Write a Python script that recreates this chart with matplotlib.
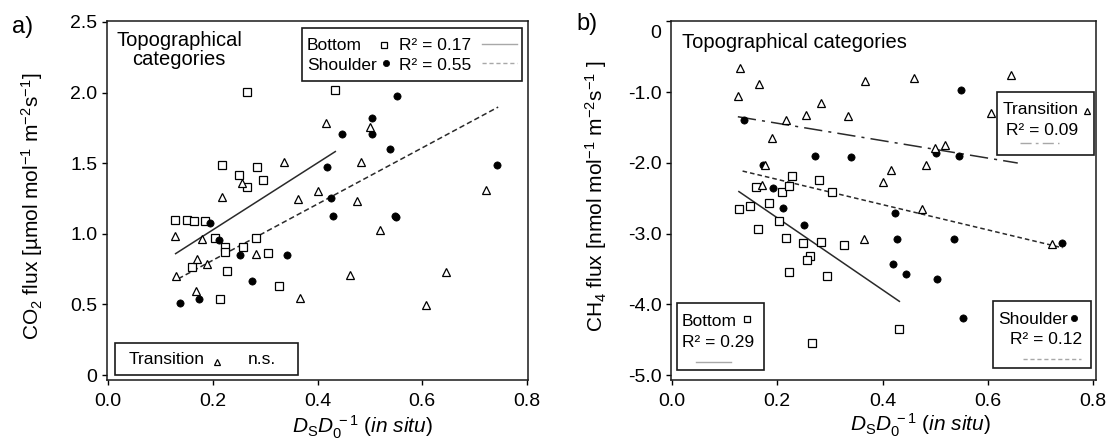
import numpy as np
import matplotlib
matplotlib.use("Agg")
import matplotlib.pyplot as plt
from matplotlib.patches import Rectangle
from matplotlib.lines import Line2D
import matplotlib.transforms as mtransforms

plt.rcParams['font.family'] = ['Liberation Sans', 'DejaVu Sans']
plt.rcParams['mathtext.fontset'] = 'custom'
plt.rcParams['mathtext.rm'] = 'Liberation Sans'
plt.rcParams['mathtext.it'] = 'Liberation Sans:italic'
plt.rcParams['mathtext.bf'] = 'Liberation Sans:bold'

# ---------------- data: panel a (CO2) ----------------
a_bottom_x = [0.266, 0.434, 0.218, 0.285, 0.250, 0.265, 0.296, 0.128, 0.150, 0.164, 0.186,
              0.205, 0.223, 0.224, 0.257, 0.282, 0.305, 0.161, 0.227, 0.327, 0.213]
a_bottom_y = [2.007, 2.016, 1.49, 1.47, 1.42, 1.33, 1.38, 1.096, 1.10, 1.09, 1.09,
              0.97, 0.91, 0.874, 0.91, 0.97, 0.867, 0.766, 0.734, 0.631, 0.537]
a_shoulder_x = [0.552, 0.505, 0.505, 0.446, 0.538, 0.419, 0.743, 0.425, 0.429, 0.548, 0.550,
                0.195, 0.212, 0.252, 0.342, 0.274, 0.138, 0.174]
a_shoulder_y = [1.979, 1.82, 1.71, 1.71, 1.60, 1.47, 1.49, 1.255, 1.126, 1.126, 1.12,
                1.08, 0.953, 0.85, 0.85, 0.664, 0.512, 0.537]
a_trans_x = [0.417, 0.501, 0.336, 0.484, 0.255, 0.218, 0.401, 0.363, 0.475, 0.722, 0.127,
             0.179, 0.520, 0.170, 0.189, 0.283, 0.129, 0.462, 0.646, 0.167, 0.366, 0.607]
a_trans_y = [1.787, 1.757, 1.507, 1.507, 1.357, 1.26, 1.30, 1.25, 1.236, 1.313, 0.986,
             0.963, 1.03, 0.825, 0.787, 0.857, 0.70, 0.708, 0.731, 0.593, 0.549, 0.495]
# regression fits (intercept, slope, x-range)
a_bottom_fit = (0.554, 2.37, 0.129, 0.434)
a_shoulder_fit = (0.415, 1.99, 0.134, 0.745)

# ---------------- data: panel b (CH4) ----------------
b_trans_x = [0.129, 0.125, 0.165, 0.366, 0.460, 0.644, 0.283, 0.254, 0.334, 0.217, 0.606,
             0.189, 0.500, 0.519, 0.177, 0.483, 0.417, 0.400, 0.171, 0.475, 0.364, 0.722]
b_trans_y = [-0.655, -1.057, -0.889, -0.847, -0.805, -0.763, -1.151, -1.324, -1.333, -1.399, -1.291,
             -1.642, -1.782, -1.75, -2.026, -2.03, -2.096, -2.264, -2.31, -2.648, -3.078, -3.149]
b_shoulder_x = [0.550, 0.136, 0.272, 0.340, 0.502, 0.545, 0.172, 0.192, 0.211, 0.250, 0.424,
                0.427, 0.536, 0.742, 0.419, 0.445, 0.504, 0.552]
b_shoulder_y = [-0.973, -1.394, -1.90, -1.923, -1.853, -1.904, -2.026, -2.349, -2.639, -2.873, -2.709,
                -3.074, -3.083, -3.13, -3.425, -3.574, -3.635, -4.196]
b_bottom_x = [0.160, 0.227, 0.280, 0.209, 0.222, 0.304, 0.127, 0.149, 0.185, 0.164, 0.204,
              0.216, 0.248, 0.283, 0.327, 0.263, 0.256, 0.223, 0.294, 0.432, 0.265]
b_bottom_y = [-2.339, -2.185, -2.236, -2.414, -2.33, -2.414, -2.648, -2.615, -2.564, -2.929, -2.821,
              -3.06, -3.139, -3.12, -3.167, -3.317, -3.373, -3.546, -3.602, -4.346, -4.547]
b_trans_fit = (-1.193, -1.231, 0.125, 0.657)
b_shoulder_fit = (-1.876, -1.785, 0.134, 0.742)
b_bottom_fit = (-1.759, -5.09, 0.127, 0.432)

a_xticks = [0.0, 0.2, 0.4, 0.6, 0.8]
a_xticklabels = ["0.0", "0.2", "0.4", "0.6", "0.8"]
a_yticks = [0.0, 0.5, 1.0, 1.5, 2.0, 2.5]
a_yticklabels = ["0", "0.5", "1.0", "1.5", "2.0", "2.5"]
b_yticks = [0.0, -1.0, -2.0, -3.0, -4.0, -5.0]
b_yticklabels = ["0", "-1.0", "-2.0", "-3.0", "-4.0", "-5.0"]

# ---------------- figure ----------------
W, H = 1107, 443
fig = plt.figure(figsize=(W / 100, H / 100), dpi=100)


def fx(px):
    return px / W


def fy(py):
    return 1 - py / H


def make_axes(l, r, t, b):
    return fig.add_axes([fx(l), fy(b), fx(r) - fx(l), fy(t) - fy(b)])


TICK_FS = 14
LEG_FS = 12.5
LINE_C = '#2a2a2a'
LEG_LINE_C = '#a8a8a8'

sq_kw = dict(marker='s', ms=5.5, mfc='white', mec='black', mew=0.9, ls='none')
dot_kw = dict(marker='o', ms=5.2, mfc='black', mec='black', mew=0.5, ls='none')
tri_kw = dict(marker='^', ms=5.8, mfc='white', mec='black', mew=0.9, ls='none')


def style_axes(ax):
    for s in ax.spines.values():
        s.set_linewidth(1.1)
        s.set_color('#1a1a1a')
    ax.tick_params(direction='out', length=3.5, width=1.0, labelsize=TICK_FS,
                   top=False, right=False)
    ax.tick_params(axis='x', pad=6)
    ax.tick_params(axis='y', pad=3)


def fit_line(ax, fit, **kw):
    b0, b1, x0, x1 = fit
    xs = np.array([x0, x1])
    ax.plot(xs, b0 + b1 * xs, **kw)


# ---------- panel a ----------
axA = make_axes(106.5, 528, 21, 380)
style_axes(axA)
axA.plot(a_bottom_x, a_bottom_y, **sq_kw, zorder=3)
axA.plot(a_shoulder_x, a_shoulder_y, **dot_kw, zorder=3)
axA.plot(a_trans_x, a_trans_y, **tri_kw, zorder=3)
fit_line(axA, a_bottom_fit, color=LINE_C, lw=1.1, ls='-', zorder=2)
fit_line(axA, a_shoulder_fit, color=LINE_C, lw=1.1, ls=(0, (3.5, 2)), zorder=2)
axA.set_xlim(-0.003, 0.802)
axA.set_ylim(-0.035, 2.507)
axA.set_xticks(a_xticks)
axA.set_xticklabels(a_xticklabels)
axA.set_yticks(a_yticks)
axA.set_yticklabels(a_yticklabels)

# ---------- panel b ----------
axB = make_axes(670.5, 1096, 21, 380)
style_axes(axB)
axB.plot(b_bottom_x, b_bottom_y, **sq_kw, zorder=3)
axB.plot(b_shoulder_x, b_shoulder_y, **dot_kw, zorder=3)
axB.plot(b_trans_x, b_trans_y, **tri_kw, zorder=3)
fit_line(axB, b_trans_fit, color=LINE_C, lw=1.1, ls=(0, (12, 4, 2, 4)), zorder=2)
fit_line(axB, b_shoulder_fit, color=LINE_C, lw=1.1, ls=(0, (3, 2)), zorder=2)
fit_line(axB, b_bottom_fit, color=LINE_C, lw=1.1, ls='-', zorder=2)
axB.set_xlim(-0.003, 0.8057)
axB.set_ylim(-5.07, 0.007)
axB.set_xticks(a_xticks)
axB.set_xticklabels(a_xticklabels)
axB.set_yticks(b_yticks)
axB.set_yticklabels(b_yticklabels)
# shift the "0" label slightly down as in the reference
lab0 = axB.get_yticklabels()[0]
lab0.set_transform(lab0.get_transform() +
                   mtransforms.ScaledTranslation(0, -10 / 100, fig.dpi_scale_trans))

# ---------- axis labels ----------
fig.text(fx(32), fy(206), r"CO$_2$ flux [µmol mol$^{-1}$ m$^{-2}$s$^{-1}$]",
         rotation=90, ha='center', va='center', fontsize=15)
fig.text(fx(596), fy(196), r"CH$_4$ flux [nmol mol$^{-1}$ m$^{-2}$s$^{-1}$ ]",
         rotation=90, ha='center', va='center', fontsize=15)
xlab = r"$D_\mathrm{S}D_0^{\,-1}$ ($\mathit{in\ situ}$)"
fig.text(fx(362), fy(427), xlab, ha='center', va='center', fontsize=15)
fig.text(fx(920), fy(425), xlab, ha='center', va='center', fontsize=15)

fig.text(fx(23), fy(27), "a)", ha='center', va='center', fontsize=17)
fig.text(fx(587), fy(24), "b)", ha='center', va='center', fontsize=17)

fig.text(fx(179), fy(50), "Topographical\ncategories", ha='center', va='center',
         multialignment='center', fontsize=14.5, linespacing=1.0)
fig.text(fx(682), fy(42), "Topographical categories", ha='left', va='center', fontsize=14.5)


# ---------- legend boxes ----------
def box(x0, y0, x1, y1):
    fig.add_artist(Rectangle((fx(x0), fy(y1)), fx(x1) - fx(x0), fy(y0) - fy(y1),
                             transform=fig.transFigure, facecolor='white',
                             edgecolor='#1a1a1a', lw=1.2, zorder=5))


def ftext(x, y, s, ha='left'):
    fig.text(fx(x), fy(y), s, ha=ha, va='center', fontsize=LEG_FS, zorder=6)


def fmark(x, y, kw):
    fig.add_artist(Line2D([fx(x)], [fy(y)], transform=fig.transFigure, zorder=6, **kw))


def fline(x0, x1, y, ls):
    fig.add_artist(Line2D([fx(x0), fx(x1)], [fy(y), fy(y)], transform=fig.transFigure,
                          color=LEG_LINE_C, lw=1.0, ls=ls, zorder=6))


# panel a, top-right box
box(302, 28, 522, 81)
ftext(307, 45.5, "Bottom")
fmark(384, 44.5, dict(sq_kw, ms=5))
ftext(399, 45.5, "R² = 0.17")
fline(482, 517, 44.3, '-')
ftext(307, 65, "Shoulder")
fmark(386, 63, dict(dot_kw, ms=4.5))
ftext(399, 65, "R² = 0.55")
fline(482, 517, 62.7, (0, (3, 2)))

# panel a, bottom-left box
box(115, 343, 298, 375)
ftext(129, 359, "Transition")
fmark(216.7, 362, dict(tri_kw, ms=5))
ftext(248, 359, "n.s.")

# panel b, transition box
box(997, 92, 1094, 155)
ftext(1003, 109.5, "Transition")
fmark(1087, 111, dict(tri_kw, ms=5))
ftext(1006, 130.3, "R² = 0.09")
fline(1019.5, 1059, 142.5, (0, (8, 3, 2, 3)))

# panel b, bottom box
box(676.7, 303, 763.5, 370)
ftext(682, 321, "Bottom")
fmark(747, 318.8, dict(sq_kw, ms=5))
ftext(682, 342.6, "R² = 0.29")
fline(696, 730.5, 361.8, '-')

# panel b, shoulder box
box(993, 300.6, 1091, 368)
ftext(998, 319.5, "Shoulder")
fmark(1074, 318, dict(dot_kw, ms=4.5))
ftext(1010.5, 340, "R² = 0.12")
fline(1023, 1080.5, 359, (0, (3, 2)))

fig.savefig("out.png", dpi=100)
